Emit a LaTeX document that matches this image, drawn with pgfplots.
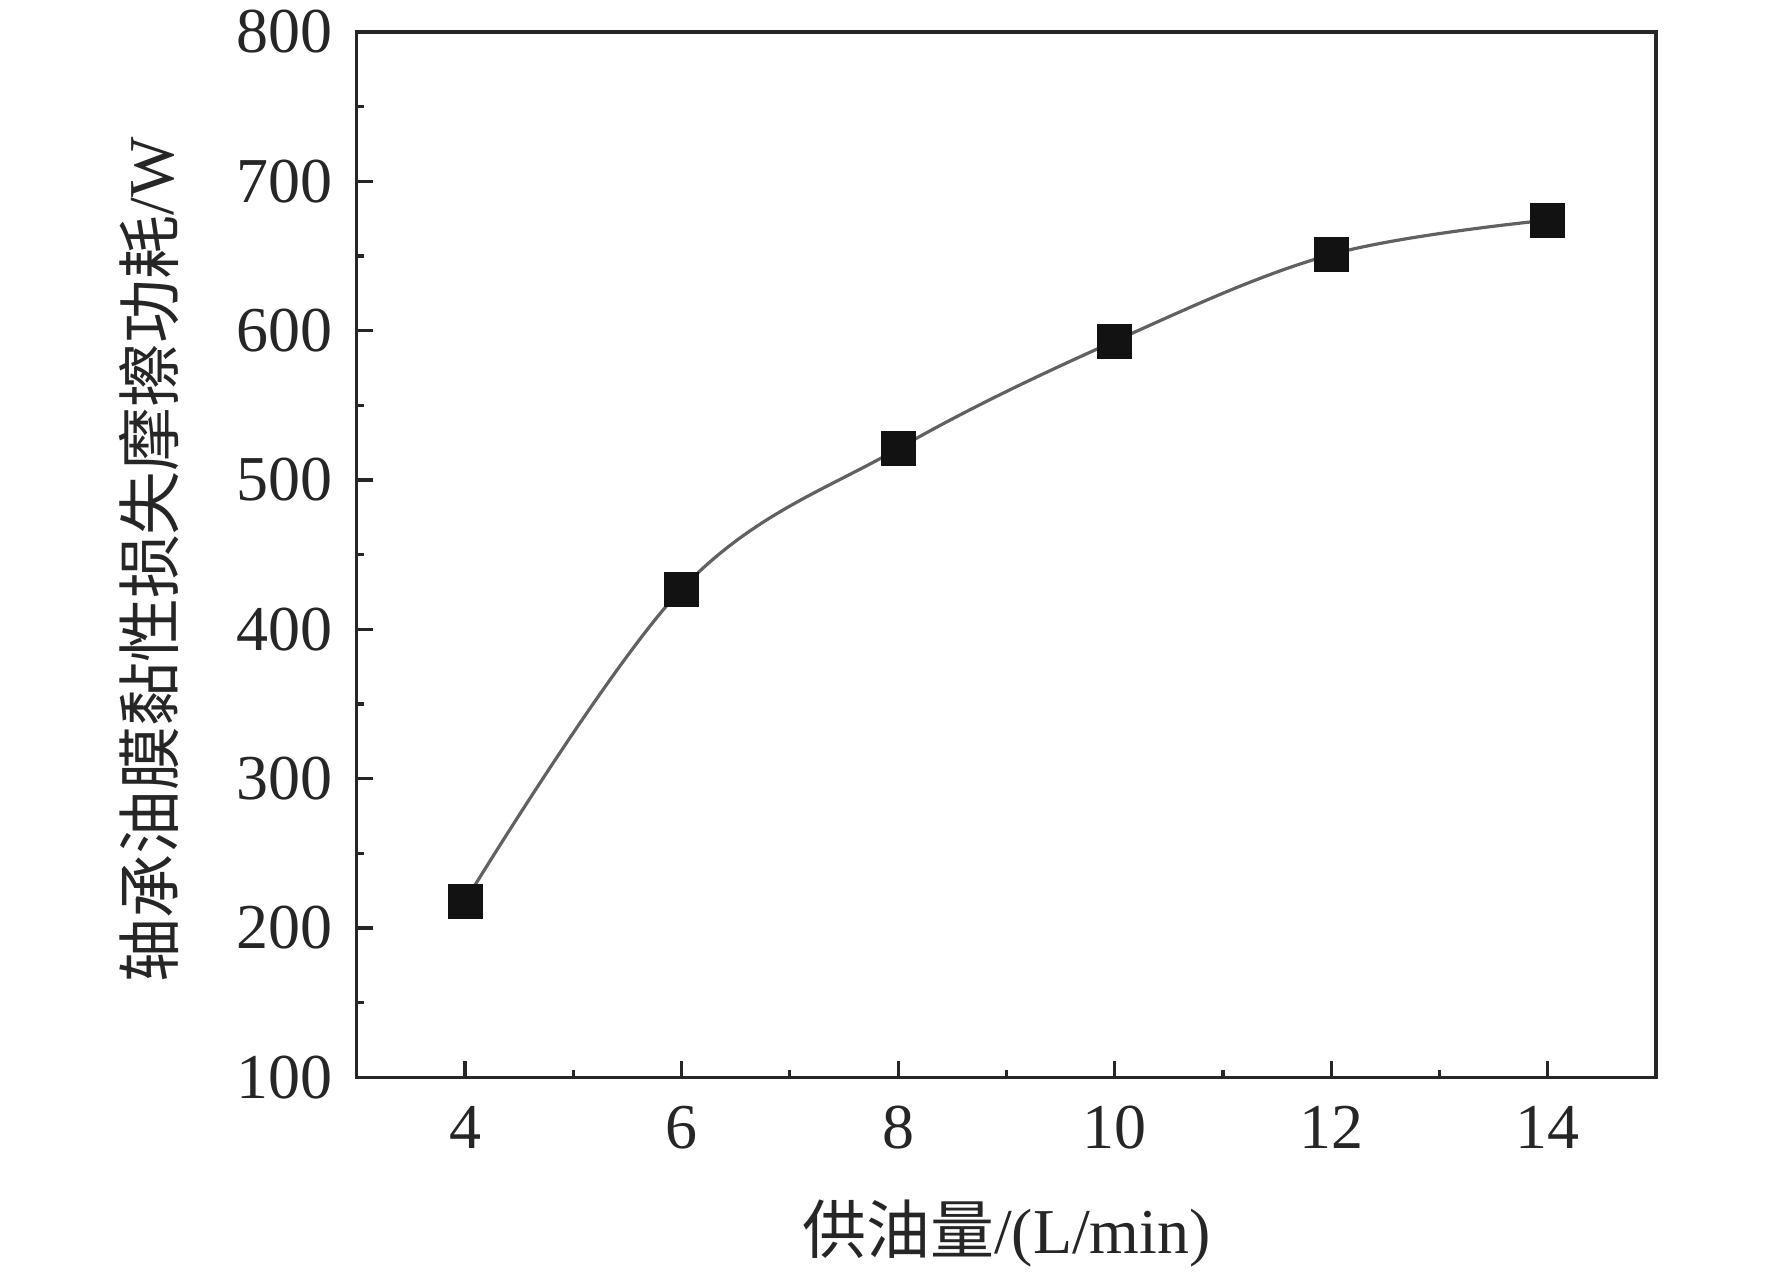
\documentclass[border=0pt]{standalone}
\usepackage{fontspec}
\setmainfont{Liberation Serif}
\newfontfamily\cjk{Noto Sans CJK SC}
\usepackage{pgfplots}
\pgfplotsset{compat=1.18}
\begin{document}
\begin{tikzpicture}
\begin{axis}[name=ax, scale only axis, width=325pt, height=261.5pt,
  xmin=3, xmax=15, ymin=100, ymax=800,
  xtick={4,6,...,14}, ytick={100,200,...,800},
  minor x tick num=1, minor y tick num=1,
  tick align=inside, xtick pos=bottom, ytick pos=left,
  major tick length=4pt, minor tick length=1.8pt,
  axis line style={line width=0.8pt, color=black!85},
  every tick/.style={line width=0.8pt, black!85},
  ticklabel style={font=\fontsize{16}{19}\selectfont, text=black!85},
  /pgf/number format/assume math mode=true,
  xticklabel style={anchor=center, inner sep=0pt, yshift=-12.5pt},
  yticklabel style={anchor=east, inner sep=0pt, xshift=-6pt},
  xlabel={{\cjk 供油量}/(L/min)},
  ylabel={{\cjk 轴承油膜黏性损失摩擦功耗}/W},
  label style={font=\fontsize{16}{19}\selectfont, text=black!85},
  xlabel style={at={(axis description cs:0.5,-0.149)}, anchor=center},
  ylabel style={at={(axis description cs:-0.16,0.495)}, anchor=center, rotate=0},
]
\addplot[color=black!62, line width=0.8pt, smooth, tension=0.6,
  mark=square*, mark size=4.25pt, mark options={draw=black!93, fill=black!93, line width=0pt}]
  coordinates {(4,218) (6,427) (8,521) (10,593) (12,651) (14,674)};
\end{axis}
\path (ax.south west) ++(-89.25pt,-48.5pt) coordinate (bl);
\path (ax.north east) ++(29pt,8pt) coordinate (tr);
\path (bl) rectangle (tr);
\end{tikzpicture}
\end{document}
